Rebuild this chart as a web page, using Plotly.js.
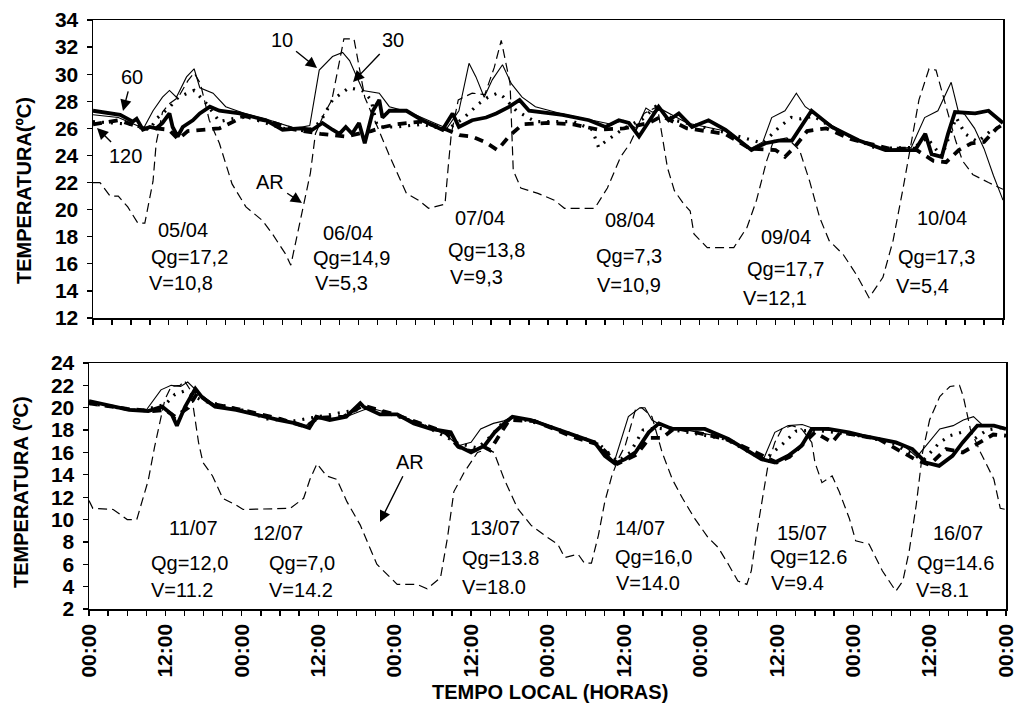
<!DOCTYPE html>
<html>
<head>
<meta charset="utf-8">
<script src="https://cdn.plot.ly/plotly-3.0.1.min.js"></script>
<style>html,body{margin:0;padding:0;background:#fff;}#chart{width:1019px;height:712px;}</style>
</head>
<body>
<div id="chart"></div>
<script>
// ---------- DATA (hours since first 00:00, temperature in ºC) ----------
// Top panel (April)
const hAR1 = [0,1.1,2.7,4,5.5,7.1,8.2,9.5,10,11,12,13.5,15,16,17,18.4,20,22,24.2,26.8,28.4,30.5,31.3,33,34.4,35.2,36.5,37.8,39,39.7,41.3,43,45.2,46.8,49.6,51.5,53.1,55.7,56.2,56.7,57.8,60,62,63.5,64.6,65.5,66,66.5,67.7,70.4,73,74.6,79.4,81.4,83.5,85,87.2,89.3,90.9,92,93.5,94.5,95.1,97.2,101.4,103.5,105,106.6,107.7,109.8,111.8,113.4,115,116.5,118.7,120.8,122.8,125,126.6,128.2,129.8,130.7,132.3,133.4,135,136.5,137.6,139.2,141.7,144];
const tAR1 = [22,22,21,21,20.2,19,19,22.1,24.9,27.2,27.8,28.3,29.5,30.1,29.3,26.6,24.9,21.9,20.2,19.2,18.2,16.7,15.9,19.7,22.7,25.6,27,28.1,31,32.6,32.6,28.3,25.9,24.1,21.2,20.7,20.1,20.4,23.1,25.6,28.1,28.6,28.5,30.5,32.5,30.5,29.3,22.9,21.6,21.2,20.7,20.1,20.1,21.6,23.9,24.9,27.1,27.6,23.1,21.4,20.4,19.9,18.2,17.2,17.2,18.7,20.7,23.6,25.1,25.3,24.4,22.1,19.4,17.7,16.7,15.2,13.5,15,17.7,21.6,25.6,28.1,30.4,30.3,27.6,25.1,23.6,22.6,22,21.5];
const h101 = [0,4,8,9.5,11,12.1,13.2,14.8,16,16.9,19,21,24,28,32,34.3,35.8,37.9,39.5,40.6,42.7,45.3,46.9,50,54,56,57.9,59.5,60.6,61.9,63.2,64.8,66.2,67.9,70,74,79,82,84,86,87.5,88.5,90,94,100,104,106,107.4,109.5,111.3,112.7,114.3,117,121,125,129.5,131.6,133.7,135.8,136.9,138,139.5,141,142.5,144];
const t101 = [27,26.8,26,27.3,28.3,28.8,28.3,29.8,30.4,29,28.6,27.6,27.1,26.6,26,26.2,30.3,31.3,31.6,31,28.8,28.6,27.6,27.2,26.4,26,27.3,30.8,29.8,28.3,29.6,30.7,29.3,28.3,27.6,27.1,26.6,26.3,26.6,26,27.5,27.2,27.4,26.4,25.8,24.5,25,26.8,27.3,28.6,27.6,27.1,26.2,25.1,24.4,24.6,26.8,27.3,29.4,27.3,27,26,24.5,22.5,20.7];
const h301 = [0,6,9,10,12,13.5,16,18,20,24,30,34,36,37.9,40.5,42.6,44,45,48,52,56,58.5,61,62.5,64,65,67,70,76,79,80,81,84,87,89,92,100,106,108.6,110.5,112,114,118,124,130,132,134.3,136.6,138,140,142,144];
const t301 = [26.5,26.3,25.9,26.7,27.5,28.3,28.8,27.8,26.5,26.9,26,25.8,26.5,28.1,29,28.8,28.1,26.1,26.1,26.3,25.9,26.7,27.8,28.3,28.6,28.3,27.3,26.5,26.5,25.9,24.6,25,26,26.7,27.6,26.6,25.7,24.9,26.1,26.8,26.7,26.9,25.8,24.5,24.6,25.3,23.9,26.8,25.6,25,25.8,26.2];
const h601 = [0,4.3,6.3,6.9,7.9,9,10,11,12.1,12.6,13.4,14.2,15.8,16.9,18.5,20,23.2,27.4,30,32.7,34.7,36.3,37.9,39,40,41,42.1,43,44.3,45.3,45.8,46.9,49.6,52.1,55.3,56.9,57.9,60,62.2,63.8,65.9,67.5,69,74.3,78.5,81.1,83.2,84.8,86.4,88.4,89.5,91.1,92.7,94.8,97.4,100.1,104.2,106.4,108.5,110.6,112.8,113.7,116.9,121.2,125.4,130.1,131.7,132.7,134.3,135.3,136.4,139.6,141.7,144];
const t601 = [27.3,27,26.5,26.7,25.9,26.1,26,26.4,27.1,26.1,25.4,26.1,26.6,27.1,27.6,27.3,27.1,26.6,25.9,26,25.9,26.4,25.9,25.6,26.1,25.6,26.4,24.9,27.3,28.1,26.8,27.3,27.3,26.6,25.9,27.1,26.1,26.6,26.8,27.1,27.6,28.1,27.3,27,26.6,26.1,26.6,26.4,25.4,26.8,27.6,26.6,27.1,26.1,26.6,25.9,24.4,24.9,25.1,25.1,26.6,27.3,26.1,25.1,24.4,24.4,25.6,24.1,23.9,25.6,27.2,27.1,27.3,26.4];
const h1201 = [0,4,8,10,12,13.5,15,17,20,24,28,32,36,40,42,44,46,48,52,56,58,60,62,64,66,68,72,76,80,84,88,90,94,100,104,108,109.5,111,113,116,120,126,130,133,135,137,139,141,143,144];
const t1201 = [26.3,26.6,26,26,25.9,25.2,25.8,25.9,26,26.9,26.5,25.9,25.6,25.4,25.6,25.8,26.1,26.3,26.5,25.9,25.5,25.4,25,24.4,25.5,26.3,26.4,26.3,25.9,26,26.4,26.9,26,25.6,24.5,24.4,23.9,24.6,25.8,26,25.2,24.5,24.5,23.6,23.5,24.4,24.9,25,26,26.3];

// Bottom panel (July)
const hAR2 = [0,0.6,3.8,6,7.5,9.3,10.3,11.3,11.9,12.9,14.3,15,16,17.2,17.9,19.4,21,23.1,24.2,31.6,33.7,34.7,35.8,37.3,38.9,40.5,42.6,45.2,48.4,51.5,53.1,55.2,56.3,57.3,58.9,61,62.6,63.6,65.2,67.3,69.4,72,73.6,74.7,76.8,77.8,78.9,80,81,82.1,83.1,84.2,85.8,86.8,88.4,90,91.6,93.2,95.1,97.2,98.8,100.4,101.9,103.3,104,104.8,105.6,106.7,107.7,108.8,110.4,111.9,113.5,114,115.1,116.7,117.8,119.4,120.4,122.5,124.6,126.7,127.8,128.8,129.9,130.9,132,133.6,135.2,136.7,137.3,138.4,140,142.1,143.1,144];
const tAR2 = [11.7,11,10.9,10,10,13.5,16.5,19.2,20.7,21.9,22,22.4,21.5,16.9,15.1,13.9,11.9,11.3,10.9,11,11.9,13.6,15,13.9,13.6,11.6,9.5,6,4.2,4.2,3.8,4.8,8.4,12.5,14.2,16,16.3,16,13.6,11,9.5,8.4,7.8,6.6,6.9,6.1,6.1,8.6,11.6,13.9,15.4,16.6,19.8,20,19.2,16,13.6,11.9,10.1,8.4,7.5,6,4.5,4.2,5.4,8.6,11.3,15.1,16.9,18.1,18.4,18.1,16.9,15.1,13.3,13.9,12.5,10.1,8.1,7.8,5.4,3.6,4.5,7.2,11.3,16,18.9,21,21.9,22,21,18.1,16,13.6,11,10.9];
const h102 = [0,6,9,11.3,12.9,14.4,15.5,16.7,18,20,24,30,34,36,40,44,48,52,56,58,60,61.5,63.5,65,66.5,70,76,80,82.5,84.7,86.5,87.3,88.4,90,94,100,104,106,107.7,109.8,112,114,118,124,128,130,131.5,133.6,135.7,137.3,138.9,140.4,142,144];
const t102 = [20.5,19.9,19.8,21.6,22,21.9,22.3,21.6,20.9,20.2,19.8,18.9,18.4,19,19.1,20,19.4,18.6,17.6,16.6,16.9,18.1,18.6,18.8,19.2,18.9,17.6,16.6,15.2,19.2,20,20,18.9,18.4,18,17.3,16,15.5,17.8,18.4,18.5,18.1,17.9,17.2,16.6,15.6,16.6,18.1,18.4,18.9,19.2,18.4,18.4,18.2];
const h302 = [0,8,12,13.5,15,16.5,18,24,28,32,36,44,52,58,61,63,65,67,72,80,83,85,87,89,92,100,106,109,111,114,120,126,131,133.6,135.2,137,139,141,144];
const t302 = [20.4,19.7,20.3,21.2,21.5,21,20.6,19.8,19,18.8,19.2,20,18.6,16.8,16.4,17.4,18.7,19.1,18.4,16.8,15.2,16,18,18.2,18,17.2,15.3,16.8,17.9,18,17.6,16.9,15.3,16.9,17.5,17.8,17.2,18,18.3];
const h602 = [0,3.8,6.3,9.3,11.5,13,13.8,15.1,16.7,17.8,19.8,23.1,27.3,29.9,32.5,34.6,35.7,37.8,40.4,42.6,43.1,45.7,48.4,51,53.7,56.8,57.9,60,62.1,63.7,65.2,66.5,69.4,72,74.7,77.3,79.4,81,82.6,84.2,85.8,87.9,89.5,91.6,92.5,96.7,100.4,103,105.6,107.7,109.8,111.9,113.5,116.1,119.3,121.4,124.1,126.7,129.3,131.4,133.5,135.6,137.2,139.5,142.1,144];
const t602 = [20.6,20.1,19.8,19.7,20.1,19.4,18.4,20.1,21.7,20.9,20.1,19.8,19.2,18.9,18.6,18.2,19.2,18.9,19.2,20.4,20.1,19.4,19.4,18.6,18.1,17.8,16.6,16,16.6,17.8,18.6,19.2,18.9,18.4,17.8,17.3,16.9,15.7,15,15.4,16,17.8,18.6,18.1,18.1,18.1,17.2,16.3,15.4,15.1,15.7,16.6,18.1,18.1,17.8,17.5,17.2,16.9,16.3,15.1,14.8,15.7,16.9,18.4,18.4,18.1];
const h1202 = [0,6,10,12,13.5,15.6,17,19,24,30,34,36,40,43,48,52,56,58,60,62,63,64.5,66,70,76,80,83,86,88,90,92,100,104,108,110,112.4,114,116.7,118,124,130,132,134.6,137.2,140,142,144];
const t1202 = [20.4,19.9,19.7,19.8,19.2,20,21.3,20.4,19.8,19,18.3,19.1,19.2,20.2,19.4,18.6,17.8,16.5,16.1,16.5,16.2,17.6,18.9,18.8,17.4,16.7,15,15.8,17.3,17.3,18.2,17.2,16.2,15.1,15.6,16.9,17.8,16.9,17.8,17.2,15.3,14.9,16.3,16,16.9,17.6,17.5];

// Tick labels and texts
const timeTickVals = [0,3,6,9,12,15,18,21,24,27,30,33,36,39,42,45,48,51,54,57,60,63,66,69,72,75,78,81,84,87,90,93,96,99,102,105,108,111,114,117,120,123,126,129,132,135,138,141,144];
const timeLabels = ['00:00','12:00','00:00','12:00','00:00','12:00','00:00','12:00','00:00','12:00','00:00','12:00','00:00'];
const daysTop = ['05/04','06/04','07/04','08/04','09/04','10/04'];
const qgTop = ['Qg=17,2','Qg=14,9','Qg=13,8','Qg=7,3','Qg=17,7','Qg=17,3'];
const vTop = ['V=10,8','V=5,3','V=9,3','V=10,9','V=12,1','V=5,4'];
const daysBot = ['11/07','12/07','13/07','14/07','15/07','16/07'];
const qgBot = ['Qg=12,0','Qg=7,0','Qg=13.8','Qg=16,0','Qg=12.6','Qg=14.6'];
const vBot = ['V=11.2','V=14.2','V=18.0','V=14.0','V=9.4','V=8.1'];
const seriesNames = ['AR','10','30','60','120'];

// ---------- STYLE / LAYOUT ----------
const W = 1019, H = 712;
const FONT = 'Liberation Sans, Arial, sans-serif';
const px = x => x / W, py = y => 1 - y / H;

const styles = {
  'AR': {width: 1.2, dash: '9px,5px'},
  '10': {width: 1.1, dash: 'solid'},
  '30': {width: 3.2, dash: '2px,7px'},
  '60': {width: 3.8, dash: 'solid'},
  '120': {width: 3.8, dash: '9px,7px'}
};
const panels = [
  {ax: ['x','y'], data: {'AR':[hAR1,tAR1],'10':[h101,t101],'30':[h301,t301],'60':[h601,t601],'120':[h1201,t1201]}},
  {ax: ['x2','y2'], data: {'AR':[hAR2,tAR2],'10':[h102,t102],'30':[h302,t302],'60':[h602,t602],'120':[h1202,t1202]}}
];
const traces = [];
panels.forEach(p => {
  ['AR','10','30','120','60'].forEach(n => {
    traces.push({
      type: 'scatter', mode: 'lines', name: n,
      x: p.data[n][0], y: p.data[n][1],
      xaxis: p.ax[0], yaxis: p.ax[1],
      line: {color: '#000', width: styles[n].width, dash: styles[n].dash, shape: 'linear'},
      hoverinfo: 'skip'
    });
  });
});

const tickText = timeTickVals.map(v => (v % 12 === 0) ? timeLabels[v / 12] : '');
const xBase = {
  range: [0, 144], tickmode: 'array', tickvals: timeTickVals, ticktext: tickText,
  ticks: 'outside', ticklen: 5, tickwidth: 1.3, tickcolor: '#000',
  showline: true, linecolor: '#000', linewidth: 1.5, mirror: true,
  showgrid: false, zeroline: false, fixedrange: true
};
const yBase = {
  dtick: 2, ticks: 'outside', ticklen: 5, tickwidth: 1.3, tickcolor: '#000',
  showline: true, linecolor: '#000', linewidth: 1.5, mirror: true,
  showgrid: false, zeroline: false, fixedrange: true, ticklabelstandoff: 4,
  tickfont: {family: FONT, size: 21, color: '#000', weight: 'bold'}
};

const annotations = [];
function txt(x, y, text, opts) {
  annotations.push(Object.assign({
    xref: 'paper', yref: 'paper', x: px(x), y: py(y), text: text, showarrow: false,
    xanchor: 'center', yanchor: 'middle',
    font: {family: FONT, size: 20, color: '#000'}
  }, opts || {}));
}
// day / Qg / V labels (pixel centres)
const topPos = [[183,230,189,257,181,283],[348,233,351,258,341,283],[480,218,486,250,476,277],[630,220,629,256,629,285],[786,237,785,269,775,298],[942,218,936,257,922,286]];
const botPos = [[193,528,189,563,182,590],[278,533,302,563,301,590],[495,528,500,558,494,587],[640,528,653,557,648,583],[802,533,808,557,797,583],[958,533,955,563,942,590]];
topPos.forEach((p, i) => { txt(p[0], p[1], daysTop[i]); txt(p[2], p[3], qgTop[i]); txt(p[4], p[5], vTop[i]); });
botPos.forEach((p, i) => { txt(p[0], p[1], daysBot[i]); txt(p[2], p[3], qgBot[i]); txt(p[4], p[5], vBot[i]); });

// arrows with series names: [text, tipX, tipY, textX, textY]
const arrows = [
  [seriesNames[3], 123, 111, 132, 77],
  [seriesNames[4], 97, 128, 125, 156],
  [seriesNames[1], 317, 68, 282, 40],
  [seriesNames[2], 353, 82, 393, 40],
  [seriesNames[0], 302, 203, 270, 182],
  [seriesNames[0], 380, 522, 410, 462]
];
arrows.forEach(a => {
  annotations.push({
    xref: 'paper', yref: 'paper', x: px(a[1]), y: py(a[2]),
    ax: a[3] - a[1], ay: a[4] - a[2], axref: 'pixel', ayref: 'pixel',
    text: a[0], showarrow: true, arrowhead: 2, arrowsize: 1.6, arrowwidth: 1.4, arrowcolor: '#000',
    standoff: 0, startstandoff: 2,
    font: {family: FONT, size: 20, color: '#000'}
  });
});
// axis titles
const titleFont = {family: FONT, size: 20, color: '#000', weight: 'bold'};
txt(24, 191, 'TEMPERATURA(ºC)', {textangle: -90, font: titleFont});
txt(21, 492, 'TEMPERATURA (ºC)', {textangle: -90, font: titleFont});
txt(550, 692, 'TEMPO LOCAL (HORAS)', {font: titleFont});

const layout = {
  width: W, height: H, margin: {l: 0, r: 0, t: 0, b: 0},
  paper_bgcolor: '#fff', plot_bgcolor: '#fff', showlegend: false,
  xaxis: Object.assign({}, xBase, {domain: [px(93), px(1003)], anchor: 'y', showticklabels: false}),
  yaxis: Object.assign({}, yBase, {domain: [py(318), py(20)], range: [12, 34], anchor: 'x', tick0: 12}),
  xaxis2: Object.assign({}, xBase, {domain: [px(89), px(1006)], anchor: 'y2', showticklabels: true, tickangle: -90,
    tickfont: {family: FONT, size: 21, color: '#000', weight: 'bold'}}),
  yaxis2: Object.assign({}, yBase, {domain: [py(609), py(363)], range: [2, 24], anchor: 'x2', tick0: 2}),
  annotations: annotations
};

Plotly.newPlot('chart', traces, layout, {staticPlot: true, displayModeBar: false});
</script>
</body>
</html>
